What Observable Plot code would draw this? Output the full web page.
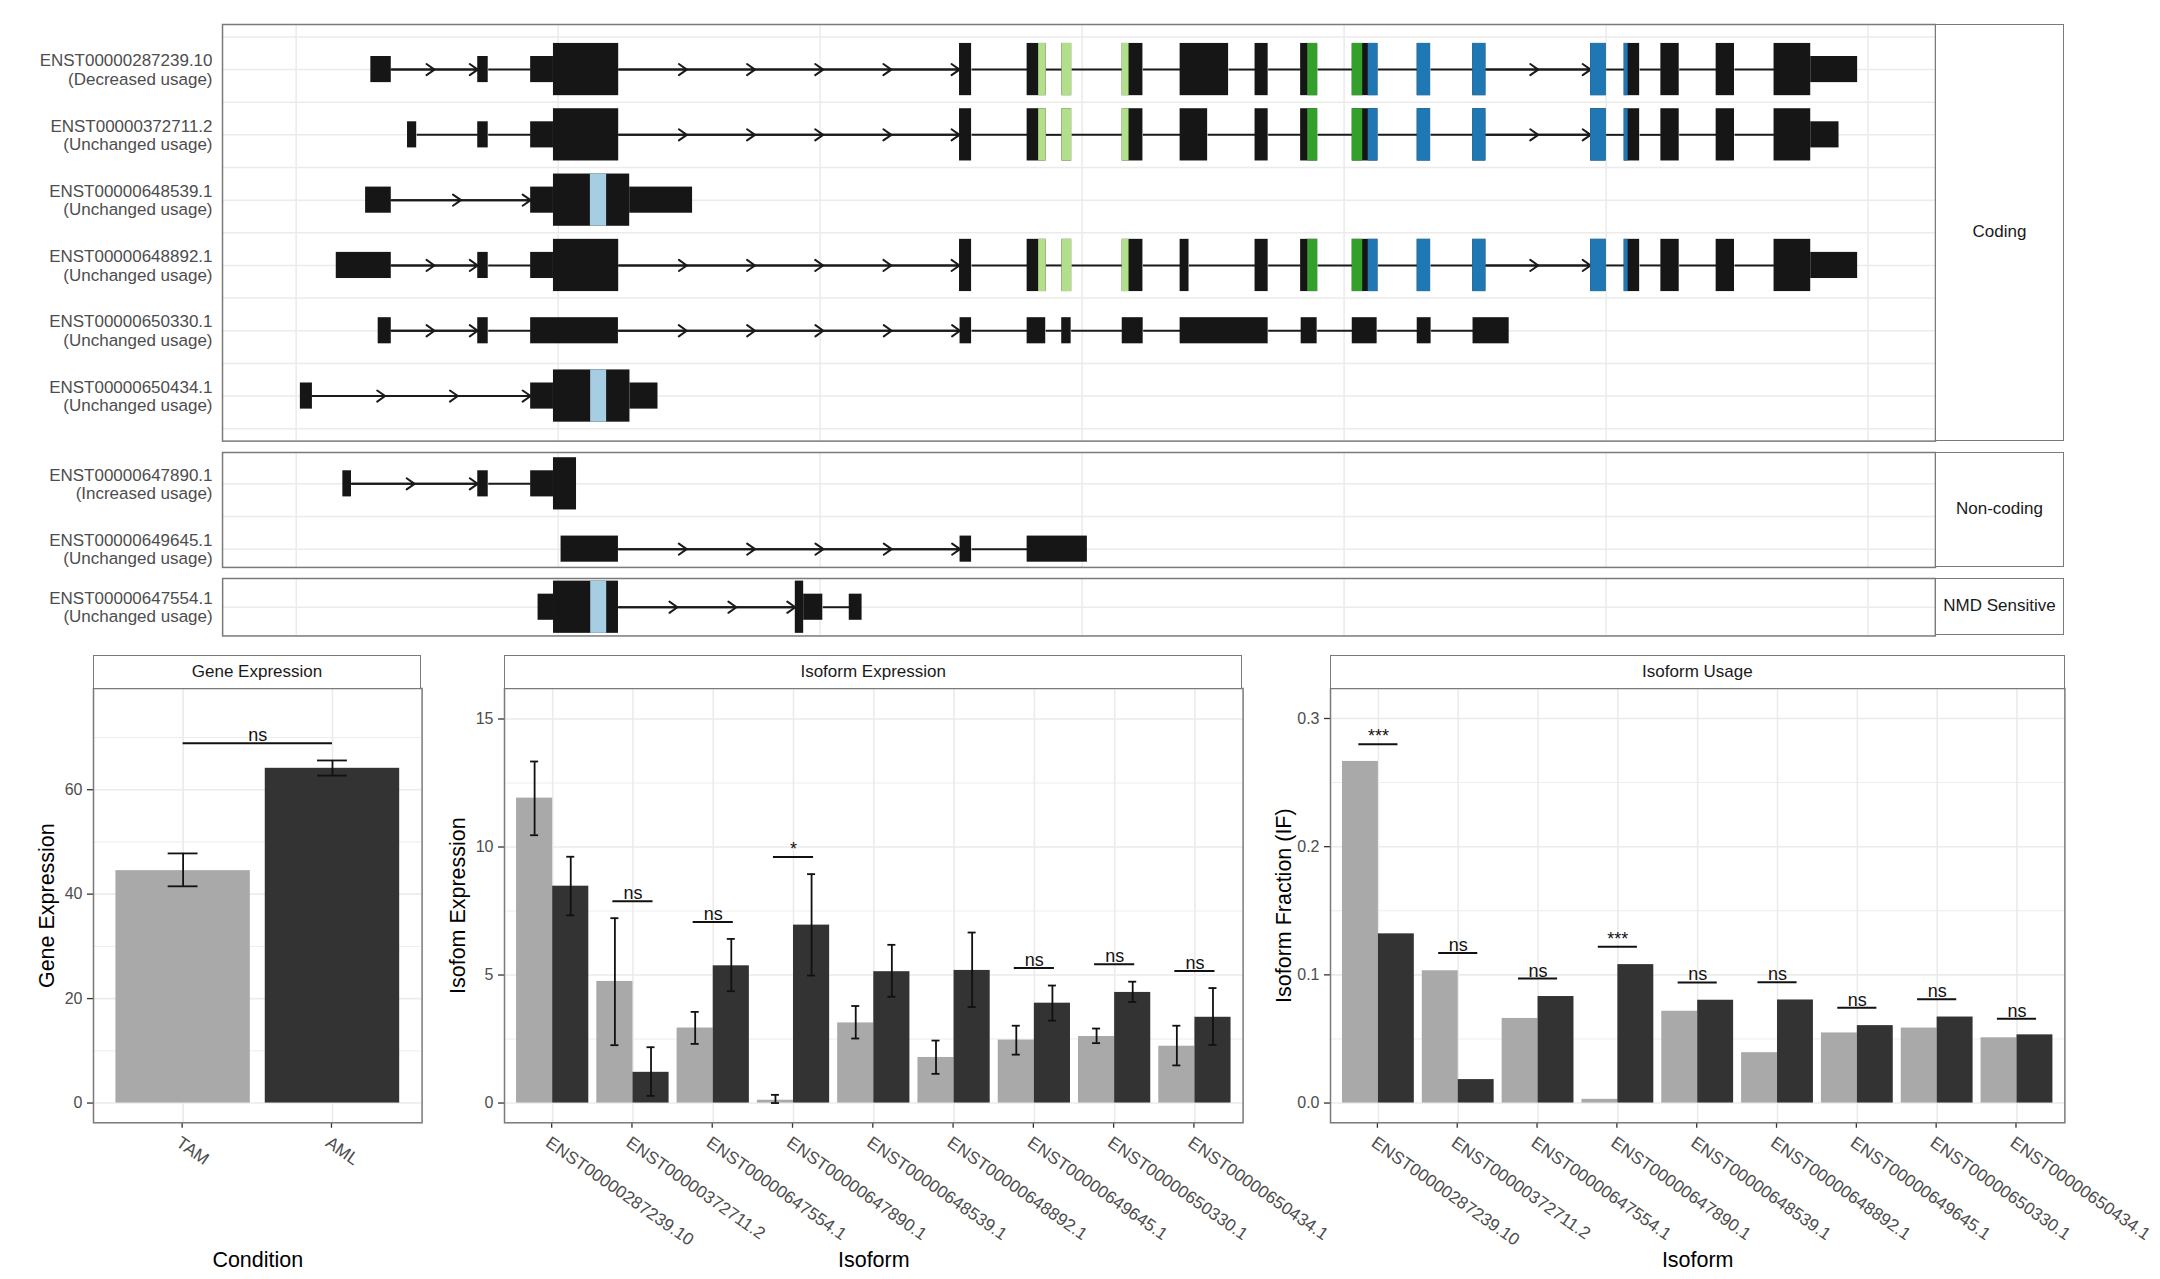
<!DOCTYPE html>
<html><head><meta charset="utf-8">
<script src="https://cdn.jsdelivr.net/npm/d3@7"></script>
<script src="https://cdn.jsdelivr.net/npm/@observablehq/plot@0.6"></script>
<style>
html,body{margin:0;padding:0;background:#fff;}
body{width:2160px;height:1279px;position:relative;overflow:hidden;font-family:"Liberation Sans",Arial,Helvetica,sans-serif;}
.box{position:absolute;}
.strip{position:absolute;box-sizing:border-box;border:1.5px solid #7a7a7a;background:#fff;color:#1a1a1a;font-size:17px;display:flex;align-items:center;justify-content:center;white-space:nowrap;}
svg{overflow:visible;}
</style></head><body>
<script>
// ================= DATA =================
// Transcript structure (rescaled coordinates)
const transcriptIds = ["ENST00000287239.10","ENST00000372711.2","ENST00000648539.1","ENST00000648892.1","ENST00000650330.1","ENST00000650434.1","ENST00000647890.1","ENST00000649645.1","ENST00000647554.1"];
const usageLabels = ["Decreased usage","Unchanged usage","Unchanged usage","Unchanged usage","Unchanged usage","Unchanged usage","Increased usage","Unchanged usage","Unchanged usage"];
const transcriptClass = ["Coding","Coding","Coding","Coding","Coding","Coding","Non-coding","Non-coding","NMD Sensitive"];
const classPanels = ["Coding","Non-coding","NMD Sensitive"];

const exonsT1 = [[28.5,36.3,"UTR"],[69.3,73.3,"UTR"],[89.5,98.2,"UTR"],[98.2,123.1,"CDS"],[253.2,257.8,"CDS"],[279.0,286.2,"CDS"],[292.3,296.0,"CDS"],[315.3,323.2,"CDS"],[337.4,355.9,"CDS"],[366.0,371.0,"CDS"],[383.4,389.9,"CDS"],[403.1,412.9,"CDS"],[427.9,433.0,"CDS"],[449.1,454.1,"CDS"],[494.1,500.0,"CDS"],[506.9,512.8,"CDS"],[520.9,527.9,"CDS"],[542.0,549.0,"CDS"],[564.1,578.1,"CDS"],[578.1,596.0,"UTR"]];
const exonsT2 = [[42.5,46.0,"UTR"],[69.3,73.3,"UTR"],[89.5,98.2,"UTR"],[98.2,123.1,"CDS"],[253.2,257.8,"CDS"],[279.0,286.2,"CDS"],[292.3,296.0,"CDS"],[315.3,323.2,"CDS"],[337.4,347.9,"CDS"],[366.0,371.0,"CDS"],[383.4,389.9,"CDS"],[403.1,412.9,"CDS"],[427.9,433.0,"CDS"],[449.1,454.1,"CDS"],[494.1,500.0,"CDS"],[506.9,512.8,"CDS"],[520.9,527.9,"CDS"],[542.0,549.0,"CDS"],[564.1,578.1,"CDS"],[578.1,588.9,"UTR"]];
const exonsT3 = [[26.5,36.3,"UTR"],[89.5,98.2,"UTR"],[98.2,127.3,"CDS"],[127.3,151.3,"UTR"]];
const exonsT4 = [[15.3,36.3,"UTR"],[69.3,73.3,"UTR"],[89.5,98.2,"UTR"],[98.2,123.1,"CDS"],[253.2,257.8,"CDS"],[279.0,286.2,"CDS"],[292.3,296.0,"CDS"],[315.3,323.2,"CDS"],[337.4,340.8,"CDS"],[366.0,371.0,"CDS"],[383.4,389.9,"CDS"],[403.1,412.9,"CDS"],[427.9,433.0,"CDS"],[449.1,454.1,"CDS"],[494.1,500.0,"CDS"],[506.9,512.8,"CDS"],[520.9,527.9,"CDS"],[542.0,549.0,"CDS"],[564.1,578.1,"CDS"],[578.1,596.0,"UTR"]];
const exonsT5 = [[31.3,36.3,"UTR"],[69.3,73.3,"UTR"],[89.5,123.0,"UTR"],[253.4,257.8,"UTR"],[279.0,286.1,"UTR"],[292.2,295.8,"UTR"],[315.3,323.3,"UTR"],[337.4,371.0,"UTR"],[383.6,389.7,"UTR"],[403.1,412.6,"UTR"],[427.9,433.2,"UTR"],[449.2,463.0,"UTR"]];
const exonsT6 = [[1.6,6.2,"UTR"],[89.5,98.2,"UTR"],[98.2,127.4,"CDS"],[127.4,138.1,"UTR"]];
const exonsT7 = [[17.8,21.1,"UTR"],[69.3,73.3,"UTR"],[89.5,98.2,"UTR"],[98.2,107.0,"CDS"]];
const exonsT8 = [[101.1,123.0,"UTR"],[253.4,257.8,"UTR"],[279.0,302.0,"UTR"]];
const exonsT9 = [[92.3,98.2,"UTR"],[98.2,123.0,"CDS"],[190.5,193.7,"CDS"],[193.7,201.0,"UTR"],[211.1,216.0,"UTR"]];
const exonTables = [exonsT1,exonsT2,exonsT3,exonsT4,exonsT5,exonsT6,exonsT7,exonsT8,exonsT9];

const domainNames = ["Domain A","Domain B","Domain C","Domain D"];
const domainColors = ["#a6cee3","#b2df8a","#33a02c","#1f78b4"];
const domainsT1 = [["Domain B",283.4,317.9],["Domain C",386.1,407.1],["Domain D",409.2,508.4]];
const domainsT3 = [["Domain A",112.3,118.5]];
const domainsT6 = [["Domain A",112.4,118.5]];
const domainsT9 = [["Domain A",112.4,118.5]];
const domainTables = [domainsT1,domainsT1,domainsT3,domainsT1,[],domainsT6,[],[],domainsT9];

// Expression data
const conditions = ["TAM","AML"];
const conditionColors = ["#a9a9a9","#333333"];
const geneMean = [44.5, 64.1];
const geneLo = [41.5, 62.7];
const geneHi = [47.8, 65.6];
const geneSigLabel = "ns";
const geneSigY = 68.9;

const isoformIds = ["ENST00000287239.10","ENST00000372711.2","ENST00000647554.1","ENST00000647890.1","ENST00000648539.1","ENST00000648892.1","ENST00000649645.1","ENST00000650330.1","ENST00000650434.1"];
const exprTAM   = [11.91, 4.75, 2.93, 0.11, 3.13, 1.78, 2.46, 2.60, 2.22];
const exprTAMlo = [10.46, 2.26, 2.31, 0.00, 2.52, 1.14, 1.89, 2.34, 1.47];
const exprTAMhi = [13.34, 7.22, 3.56, 0.32, 3.79, 2.44, 3.02, 2.91, 3.02];
const exprAML   = [8.47, 1.20, 5.36, 6.95, 5.13, 5.18, 3.90, 4.32, 3.35];
const exprAMLlo = [7.33, 0.28, 4.37, 4.98, 4.15, 3.75, 3.22, 3.95, 2.27];
const exprAMLhi = [9.62, 2.18, 6.41, 8.94, 6.18, 6.66, 4.59, 4.74, 4.49];
const exprSigLabel = [null, "ns", "ns", "*", null, null, "ns", "ns", "ns"];
const exprSigY     = [null, 7.88, 7.07, 9.61, null, null, 5.27, 5.42, 5.16];

const usageTAM = [0.2665, 0.1032, 0.0660, 0.0029, 0.0716, 0.0393, 0.0547, 0.0585, 0.0509];
const usageAML = [0.1320, 0.0183, 0.0831, 0.1080, 0.0802, 0.0804, 0.0604, 0.0671, 0.0532];
const usageSigLabel = ["***","ns","ns","***","ns","ns","ns","ns","ns"];
const usageSigY     = [0.2800, 0.1170, 0.0971, 0.1220, 0.0941, 0.0943, 0.0744, 0.0810, 0.0658];

const geneTicks = [0, 20, 40, 60];
const exprTicks = [0, 5, 10, 15];
const usageTicks = [0, 0.1, 0.2, 0.3];

// ================= LAYOUT / STYLE =================
const FONT = '"Liberation Sans", Arial, Helvetica, sans-serif';
const GRID = "#ebebeb";
const BORDER = "#7a7a7a";
const AXT = "#4d4d4d";
const baseStyle = {fontFamily: FONT, fontSize: "16px", background: "transparent", overflow: "visible", color: AXT};

function place(el, left, top) {
  const d = document.createElement("div");
  d.className = "box";
  d.style.left = left + "px";
  d.style.top = top + "px";
  d.appendChild(el);
  document.body.appendChild(d);
  return d;
}
function strip(text, left, top, w, h) {
  const d = document.createElement("div");
  d.className = "strip";
  d.style.left = left + "px"; d.style.top = top + "px";
  d.style.width = w + "px"; d.style.height = h + "px";
  d.textContent = text;
  document.body.appendChild(d);
}

// ================= TRANSCRIPT PANELS =================
const allEx = exonTables.flat();
const xMin = d3.min(allEx, d => d[0]), xMax = d3.max(allEx, d => d[1]);
const xPad = 0.05 * (xMax - xMin);
const xDomain = [xMin - xPad, xMax + xPad];
const PLOT_L = 222, PLOT_R = 1935, STRIP_R = 2064;
const ROW_PX = 65.3;
let panelTop = 24;

classPanels.forEach(cls => {
  const idx = transcriptIds.map((_, i) => i).filter(i => transcriptClass[i] === cls);
  const exRects = [], domRects = [], introns = [], arrows = [];
  idx.forEach((t, row) => {
    const ex = exonTables[t].map(([s, e, k]) => ({s, e, k}));
    ex.forEach(d => {
      const h = d.k === "CDS" ? 0.4 : 0.2;
      exRects.push({x1: d.s, x2: d.e, y1: row - h, y2: row + h});
    });
    domainTables[t].forEach(([name, ds, de]) => {
      ex.filter(d => d.k === "CDS").forEach(d => {
        const a = Math.max(ds, d.s), b = Math.min(de, d.e);
        if (b > a) domRects.push({x1: a, x2: b, y1: row - 0.4, y2: row + 0.4, domain: name});
      });
    });
    const sorted = ex.slice().sort((a, b) => a.s - b.s);
    for (let j = 1; j < sorted.length; j++) {
      const a = sorted[j - 1].e, b = sorted[j].s;
      if (b - a > 0.05) {
        introns.push({x1: a, x2: b, y: row});
        const L = b - a;
        if (L >= 28.6) {
          const n = Math.max(2, Math.round(L / 26.7));
          for (let k = 0; k < n; k++) arrows.push({x1: a + k * L / n, x2: a + (k + 1) * L / n, y: row});
        }
      }
    }
  });
  const lo = d3.min(exRects, d => d.y1), hi = d3.max(exRects, d => d.y2);
  const pad = 0.05 * (hi - lo);
  const yDom = [lo - pad, hi + pad];
  const ph = (yDom[1] - yDom[0]) * ROW_PX;
  const yBreaks = d3.range(-0.5, idx.length, 0.5).filter(v => v > yDom[0] && v < yDom[1]);
  const MT = 2, MB = 2;
  const plot = Plot.plot({
    width: PLOT_R + 2, height: ph + MT + MB,
    marginLeft: PLOT_L, marginRight: 2, marginTop: MT, marginBottom: MB,
    x: {domain: xDomain, axis: null},
    y: {domain: yDom, reverse: true},
    color: {domain: domainNames, range: domainColors},
    style: baseStyle,
    marks: [
      Plot.gridX(d3.range(0, 601, 100), {stroke: GRID, strokeOpacity: 1, strokeWidth: 1.5}),
      Plot.gridY(yBreaks, {stroke: GRID, strokeOpacity: 1, strokeWidth: 1.5}),
      Plot.axisY(d3.range(idx.length), {
        tickSize: 0, tickPadding: 10, fontSize: 17, fill: AXT, lineHeight: 1.08,
        tickFormat: r => transcriptIds[idx[r]] + "\n(" + usageLabels[idx[r]] + ")"
      }),
      Plot.link(introns, {x1: "x1", x2: "x2", y1: "y", y2: "y", stroke: "#1a1a1a", strokeWidth: 2}),
      Plot.arrow(arrows, {x1: "x1", x2: "x2", y1: "y", y2: "y", stroke: "#1a1a1a", strokeWidth: 2, headLength: 7.3, headAngle: 70}),
      Plot.rect(exRects, {x1: "x1", x2: "x2", y1: "y1", y2: "y2", fill: "#161616"}),
      Plot.rect(domRects, {x1: "x1", x2: "x2", y1: "y1", y2: "y2", fill: "domain"}),
      Plot.frame({stroke: BORDER, strokeWidth: 1.5})
    ]
  });
  place(plot, 0, panelTop - MT);
  strip(cls, PLOT_R, panelTop, STRIP_R - PLOT_R, ph);
  panelTop += ph + 11;
});

// ================= BAR PANELS =================
const BP_TOP = 687.7, BP_H = 434.3, STRIP_H = 32.7;

function barPanel({cats, bars, sigs, yMax, yTicks, yFmt, plotLeft, plotWidth, yTitle, xTitle, stripText, cap}) {
  const ML = 70, MR = 2, MT = 2, MB = 160;
  const n = cats.length;
  const minor = d3.range(yTicks.length).map(i => yTicks[i] + (yTicks[1] - yTicks[0]) / 2).filter(v => v < 1.05 * yMax);
  const errBars = bars.filter(d => d.lo != null);
  const plot = Plot.plot({
    width: ML + plotWidth + MR, height: MT + BP_H + MB,
    marginLeft: ML, marginRight: MR, marginTop: MT, marginBottom: MB,
    x: {domain: [-0.6, n - 0.4]},
    y: {domain: [-0.05 * yMax, 1.05 * yMax]},
    color: {domain: conditions, range: conditionColors},
    style: baseStyle,
    marks: [
      Plot.gridY(minor, {stroke: GRID, strokeOpacity: 1, strokeWidth: 0.9}),
      Plot.gridY(yTicks, {stroke: GRID, strokeOpacity: 1, strokeWidth: 1.6}),
      Plot.gridX(d3.range(n), {stroke: GRID, strokeOpacity: 1, strokeWidth: 1.6}),
      Plot.axisY(yTicks, {tickSize: 6, tickPadding: 5, fontSize: 16, fill: AXT, stroke: "#333", strokeWidth: 1.3, tickFormat: yFmt}),
      Plot.axisX(d3.range(n), {tickSize: 5.5, tickPadding: 7, fontSize: 17.3, fill: AXT, stroke: "#333", strokeWidth: 1.3,
        tickRotate: 35, textAnchor: "start", lineAnchor: "top", dx: -1, tickFormat: i => cats[i]}),
      Plot.rect(bars, {x1: "x1", x2: "x2", y1: 0, y2: "value", fill: "cond"}),
      Plot.ruleX(errBars, {x: "xc", y1: "lo", y2: "hi", stroke: "#111", strokeWidth: 1.8}),
      Plot.ruleY(errBars, {y: "lo", x1: d => d.xc - cap, x2: d => d.xc + cap, stroke: "#111", strokeWidth: 1.8}),
      Plot.ruleY(errBars, {y: "hi", x1: d => d.xc - cap, x2: d => d.xc + cap, stroke: "#111", strokeWidth: 1.8}),
      Plot.ruleY(sigs, {y: "y", x1: "x1", x2: "x2", stroke: "#111", strokeWidth: 2}),
      Plot.text(sigs, {x: "xc", y: "y", text: "label", lineAnchor: "bottom", dy: -2, fontSize: 18, fill: "#111"}),
      Plot.frame({stroke: BORDER, strokeWidth: 1.5}),
      Plot.text([yTitle], {frameAnchor: "left", dx: -46, rotate: -90, textAnchor: "middle", lineAnchor: "middle", fontSize: 21.5, fill: "#000", text: d => d}),
      Plot.text([xTitle], {frameAnchor: "bottom", dy: 137, textAnchor: "middle", lineAnchor: "middle", fontSize: 21.5, fill: "#000", text: d => d})
    ]
  });
  place(plot, plotLeft - ML, BP_TOP - MT);
  strip(stripText, plotLeft, BP_TOP - STRIP_H, plotWidth, STRIP_H + 1);
}

// Gene expression
const geneBars = conditions.map((c, i) => ({cond: c, x1: i - 0.45, x2: i + 0.45, xc: i, value: geneMean[i], lo: geneLo[i], hi: geneHi[i]}));
barPanel({
  cats: conditions, bars: geneBars,
  sigs: [{x1: 0, x2: 1, xc: 0.5, y: geneSigY, label: geneSigLabel}],
  yMax: 75.6, yTicks: geneTicks, yFmt: d3.format("d"),
  plotLeft: 92.7, plotWidth: 328.6, yTitle: "Gene Expression", xTitle: "Condition", stripText: "Gene Expression", cap: 0.1
});

// Isoform expression
const exprBars = isoformIds.flatMap((id, i) => [
  {cond: "TAM", x1: i - 0.45, x2: i, xc: i - 0.225, value: exprTAM[i], lo: exprTAMlo[i], hi: exprTAMhi[i]},
  {cond: "AML", x1: i, x2: i + 0.45, xc: i + 0.225, value: exprAML[i], lo: exprAMLlo[i], hi: exprAMLhi[i]}
]);
const exprSigs = isoformIds.map((id, i) => ({x1: i - 0.25, x2: i + 0.25, xc: i, y: exprSigY[i], label: exprSigLabel[i]})).filter(d => d.label);
barPanel({
  cats: isoformIds, bars: exprBars, sigs: exprSigs,
  yMax: 15.42, yTicks: exprTicks, yFmt: d3.format("d"),
  plotLeft: 503.9, plotWidth: 738.6, yTitle: "Isofom Expression", xTitle: "Isoform", stripText: "Isoform Expression", cap: 0.05
});

// Isoform usage
const usageBars = isoformIds.flatMap((id, i) => [
  {cond: "TAM", x1: i - 0.45, x2: i, xc: i - 0.225, value: usageTAM[i]},
  {cond: "AML", x1: i, x2: i + 0.45, xc: i + 0.225, value: usageAML[i]}
]);
const usageSigs = isoformIds.map((id, i) => ({x1: i - 0.245, x2: i + 0.245, xc: i, y: usageSigY[i], label: usageSigLabel[i]}));
barPanel({
  cats: isoformIds, bars: usageBars, sigs: usageSigs,
  yMax: 0.308, yTicks: usageTicks, yFmt: d3.format(".1f"),
  plotLeft: 1330.2, plotWidth: 734.4, yTitle: "Isoform Fraction (IF)", xTitle: "Isoform", stripText: "Isoform Usage", cap: 0.05
});
</script>
</body></html>
